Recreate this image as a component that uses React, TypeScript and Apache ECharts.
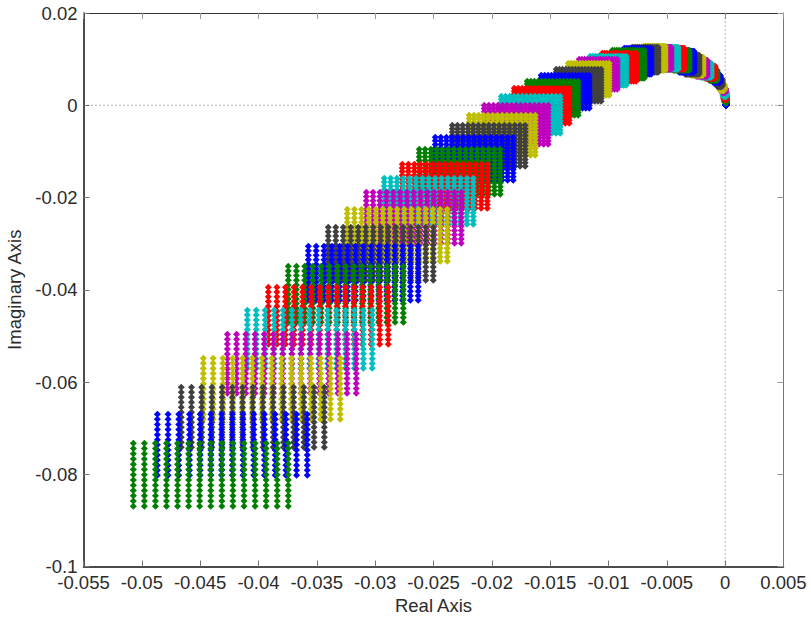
import React, { useEffect, useRef } from "react";
import * as echarts from "echarts";

// Extents of each coloured lattice of poles, outermost block first.
const blockReLeft = [
  -0.05073, -0.04867, -0.04662, -0.04473, -0.04267, -0.04096, -0.03916, -0.03745, -0.03573, -0.03402,
  -0.03239, -0.03076, -0.02922, -0.02768, -0.02622, -0.02485, -0.02339, -0.02194, -0.02065, -0.01919,
  -0.01808, -0.01697, -0.01577, -0.01448, -0.01345, -0.01251, -0.01157, -0.01054, -0.00968, -0.00865,
  -0.00797, -0.00694, -0.00643, -0.00574, -0.00506, -0.00446, -0.00394, -0.00343, -0.00291, -0.00249,
  -0.00206, -0.00171, -0.00137, -0.00103, -0.00069, -0.00043, -0.00026, -0.00017, -0.00009, 0, 0.00009,
];
const blockReRight = [
  -0.03745, -0.03582, -0.03436, -0.03299, -0.03162, -0.03025, -0.02888, -0.02759, -0.02631, -0.02502,
  -0.02382, -0.02262, -0.02159, -0.02039, -0.01928, -0.01817, -0.01714, -0.01628, -0.01517, -0.01414,
  -0.01337, -0.0126, -0.01165, -0.01063, -0.00994, -0.00925, -0.00848, -0.00763, -0.00694, -0.00634,
  -0.00574, -0.00514, -0.00463, -0.00403, -0.00351, -0.00308, -0.00266, -0.00223, -0.00189, -0.00154,
  -0.0012, -0.00086, -0.00069, -0.00043, -0.00026, -0.00009, 0, 0.00009, 0.00009, 0.00009, 0.00009,
];
const blockImTop = [
  -0.07329, -0.067, -0.06114, -0.05486, -0.04965, -0.04445, -0.03946, -0.03491, -0.03057, -0.02645,
  -0.02255, -0.01886, -0.01583, -0.01279, -0.00954, -0.00694, -0.00434, -0.00217, 0, 0.00195,
  0.00369, 0.0052, 0.0065, 0.00781, 0.00911, 0.00997, 0.01062, 0.01127, 0.01193, 0.01236,
  0.01258, 0.01279, 0.01258, 0.01258, 0.01236, 0.01193, 0.01171, 0.01084, 0.01041, 0.00976,
  0.00911, 0.00846, 0.00759, 0.0065, 0.00564, 0.00455, 0.00369, 0.00282, 0.00195, 0.00108, 0.00022,
];
const blockImBottom = [
  -0.08695, -0.08023, -0.07416, -0.06808, -0.06245, -0.05703, -0.05182, -0.04705, -0.04228, -0.03794,
  -0.03382, -0.02992, -0.0258, -0.02233, -0.0193, -0.01626, -0.01323, -0.01084, -0.00846, -0.00607,
  -0.0039, -0.00217, -0.00065, 0.00087, 0.00217, 0.00347, 0.00434, 0.0052, 0.00585, 0.00672,
  0.00716, 0.00759, 0.00781, 0.00781, 0.00781, 0.00759, 0.00716, 0.00672, 0.0065, 0.00629,
  0.00607, 0.00585, 0.00542, 0.00499, 0.00412, 0.00325, 0.00282, 0.00195, 0.0013, 0.00065, 0,
];
// Marks counted in the largest block: 15 columns of 13 rows.
const columnsPerBlock = 15;
const rowsPerBlock = 13;
// Colour order, starting from the block nearest the origin.
const blockColors = ["#0000ff", "#007f00", "#ff0000", "#00bfbf", "#bf00bf", "#bfbf00", "#404040"];

const xRange = [-0.055, 0.005];
const yRange = [-0.1, 0.02];
const xStep = 0.005;
const yStep = 0.02;
const xName = "Real Axis";
const yName = "Imaginary Axis";

const FONT = "Liberation Sans";
const TEXT = "#2b2b2b";

function blockPoints(b: number): number[][] {
  const pts: number[][] = [];
  for (let c = 0; c < columnsPerBlock; c++) {
    const x = blockReLeft[b] + ((blockReRight[b] - blockReLeft[b]) * c) / (columnsPerBlock - 1);
    for (let r = 0; r < rowsPerBlock; r++) {
      const y = blockImTop[b] + ((blockImBottom[b] - blockImTop[b]) * r) / (rowsPerBlock - 1);
      pts.push([x, y]);
    }
  }
  return pts;
}

function buildOption() {
  const series: any[] = [];
  const zeroStyle = { color: "#666", width: 1, type: [1, 3] };
  series.push({
    type: "line",
    data: [[xRange[0], 0], [xRange[1], 0]],
    symbol: "none",
    lineStyle: zeroStyle,
    silent: true,
  });
  series.push({
    type: "line",
    data: [[0, yRange[0]], [0, yRange[1]]],
    symbol: "none",
    lineStyle: zeroStyle,
    silent: true,
  });
  const n = blockReLeft.length;
  for (let i = 0; i < n; i++) {
    const b = n - 1 - i;
    series.push({
      type: "scatter",
      data: blockPoints(b),
      symbol: "diamond",
      symbolSize: 7,
      itemStyle: { color: blockColors[i % blockColors.length], opacity: 1 },
      silent: true,
      large: false,
      progressive: 0,
    });
  }
  const tick = (color: string) => ({ show: true, inside: true, length: 6, lineStyle: { color, width: 1 } });
  const label = { color: TEXT, fontFamily: FONT, fontSize: 18.5 };
  return {
    animation: false,
    backgroundColor: "#ffffff",
    grid: { left: 83.5, right: 27.5, top: 13, bottom: 50.5, containLabel: false, outerBoundsMode: "none" },
    xAxis: [
      {
        type: "value",
        min: xRange[0],
        max: xRange[1],
        interval: xStep,
        name: xName,
        nameLocation: "middle",
        nameGap: 27,
        nameTextStyle: { color: TEXT, fontFamily: FONT, fontSize: 18.5 },
        axisLine: { onZero: false, lineStyle: { color: "#111", width: 1.5 } },
        axisTick: tick("#777"),
        axisLabel: { ...label, margin: 6, hideOverlap: false },
        splitLine: { show: false },
      },
      {
        type: "value",
        position: "top",
        min: xRange[0],
        max: xRange[1],
        interval: xStep,
        axisLine: { onZero: false, lineStyle: { color: "#333", width: 1 } },
        axisTick: tick("#999"),
        axisLabel: { show: false },
        splitLine: { show: false },
      },
    ],
    yAxis: [
      {
        type: "value",
        min: yRange[0],
        max: yRange[1],
        interval: yStep,
        name: yName,
        nameLocation: "middle",
        nameGap: 56,
        nameTextStyle: { color: TEXT, fontFamily: FONT, fontSize: 18.5 },
        axisLine: { onZero: false, lineStyle: { color: "#111", width: 1.5 } },
        axisTick: tick("#777"),
        axisLabel: { ...label, margin: 6, hideOverlap: false },
        splitLine: { show: false },
      },
      {
        type: "value",
        position: "right",
        min: yRange[0],
        max: yRange[1],
        interval: yStep,
        axisLine: { onZero: false, lineStyle: { color: "#777", width: 1 } },
        axisTick: tick("#999"),
        axisLabel: { show: false },
        splitLine: { show: false },
      },
    ],
    series,
  };
}

export default function App() {
  const ref = useRef<HTMLDivElement>(null);
  useEffect(() => {
    const chart = echarts.init(ref.current!, undefined, { renderer: "svg" });
    chart.setOption(buildOption() as any);
    return () => chart.dispose();
  }, []);
  return (
    <div
      ref={ref}
      style={{ position: "fixed", left: 0, top: 0, width: 811, height: 617, background: "#fff" }}
    />
  );
}
